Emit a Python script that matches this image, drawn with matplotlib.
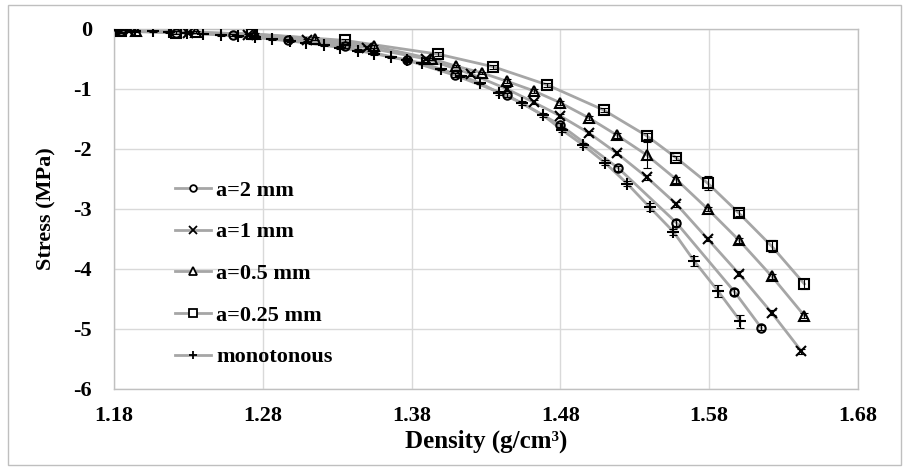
import numpy as np
import matplotlib.pyplot as plt
from matplotlib.patches import Rectangle

plt.rcParams['font.family'] = ['Liberation Serif', 'DejaVu Serif']
plt.rcParams['font.weight'] = 'bold'
plt.rcParams['axes.unicode_minus'] = False

# Data
x_a2 = [1.185, 1.222, 1.260, 1.297, 1.335, 1.377, 1.409, 1.444, 1.480, 1.519, 1.558, 1.597, 1.615]
y_a2 = [-0.03, -0.06, -0.10, -0.18, -0.29, -0.52, -0.77, -1.10, -1.60, -2.32, -3.23, -4.38, -4.98]
e_a2 = [0.02, 0.02, 0.02, 0.02, 0.02, 0.03, 0.03, 0.03, 0.04, 0.04, 0.05, 0.05, 0.04]

x_a1 = [1.190, 1.230, 1.270, 1.310, 1.350, 1.390, 1.420, 1.444, 1.462, 1.480, 1.499, 1.518, 1.538,
        1.558, 1.579, 1.600, 1.622, 1.642]
y_a1 = [-0.03, -0.06, -0.10, -0.18, -0.31, -0.50, -0.75, -1.00, -1.22, -1.45, -1.73, -2.07, -2.47,
        -2.92, -3.50, -4.08, -4.73, -5.37]
e_a1 = [0.02, 0.02, 0.02, 0.02, 0.02, 0.02, 0.03, 0.03, 0.03, 0.03, 0.03, 0.03, 0.04,
        0.04, 0.04, 0.04, 0.04, 0.04]

x_a05 = [1.195, 1.235, 1.275, 1.315, 1.355, 1.394, 1.410, 1.427, 1.444, 1.462, 1.480, 1.499, 1.518,
         1.538, 1.558, 1.579, 1.600, 1.622, 1.644]
y_a05 = [-0.03, -0.05, -0.09, -0.16, -0.29, -0.50, -0.62, -0.73, -0.87, -1.03, -1.23, -1.48, -1.77,
         -2.10, -2.51, -3.00, -3.52, -4.12, -4.78]
e_a05 = [0.02, 0.02, 0.02, 0.02, 0.02, 0.02, 0.02, 0.02, 0.03, 0.03, 0.03, 0.03, 0.04,
         0.21, 0.05, 0.04, 0.04, 0.04, 0.04]

x_a025 = [1.185, 1.222, 1.273, 1.335, 1.398, 1.435, 1.471, 1.509, 1.538, 1.558, 1.579, 1.600, 1.622, 1.644]
y_a025 = [-0.04, -0.06, -0.08, -0.19, -0.42, -0.63, -0.93, -1.35, -1.78, -2.15, -2.57, -3.07, -3.62, -4.25]
e_a025 = [0.02, 0.02, 0.02, 0.02, 0.03, 0.03, 0.03, 0.03, 0.05, 0.03, 0.12, 0.05, 0.10, 0.08]

x_mono = [1.183, 1.194, 1.206, 1.217, 1.229, 1.240, 1.252, 1.263, 1.275, 1.286, 1.298, 1.309,
          1.321, 1.332, 1.344, 1.355, 1.366, 1.377, 1.387, 1.400, 1.413, 1.426, 1.439, 1.454,
          1.468, 1.481, 1.495, 1.510, 1.525, 1.540, 1.556, 1.570, 1.586, 1.601]
y_mono = [-0.02, -0.03, -0.04, -0.05, -0.06, -0.08, -0.10, -0.12, -0.14, -0.17, -0.20, -0.23,
          -0.27, -0.31, -0.36, -0.41, -0.47, -0.52, -0.57, -0.67, -0.78, -0.90, -1.07, -1.23,
          -1.43, -1.68, -1.93, -2.23, -2.58, -2.97, -3.38, -3.87, -4.37, -4.87]
e_mono = [0.01, 0.01, 0.01, 0.01, 0.01, 0.01, 0.01, 0.01, 0.01, 0.01, 0.01, 0.01,
          0.02, 0.02, 0.02, 0.02, 0.02, 0.02, 0.02, 0.02, 0.02, 0.02, 0.03, 0.03,
          0.03, 0.03, 0.03, 0.04, 0.04, 0.07, 0.05, 0.08, 0.10, 0.11]

series = [
    (x_a2, y_a2, e_a2, 'o', 6, 'a=2 mm'),
    (x_a1, y_a1, e_a1, 'x', 7, 'a=1 mm'),
    (x_a05, y_a05, e_a05, '^', 7, 'a=0.5 mm'),
    (x_a025, y_a025, e_a025, 's', 7, 'a=0.25 mm'),
    (x_mono, y_mono, e_mono, '+', 8, 'monotonous'),
]

fig = plt.figure(figsize=(9.09, 4.70), dpi=100)
ax = fig.add_axes([114 / 909, 1 - 389 / 470, 744 / 909, 360 / 470])

line_color = '#a6a6a6'
for xs, ys, es, mk, ms, lab in series:
    ax.plot(xs, ys, '-', color=line_color, lw=2.0, zorder=2)
    ax.errorbar(xs, ys, yerr=es, fmt='none', ecolor='black', elinewidth=0.8,
                capsize=3, capthick=0.8, zorder=3)
    ax.plot(xs, ys, linestyle='none', marker=mk, ms=ms, mec='black', mfc='none',
            mew=1.5, zorder=4)
    # legend proxy
    ax.plot([], [], '-', color=line_color, lw=2.0, marker=mk, ms=ms * 0.8,
            mec='black', mfc='white', mew=1.3, label=lab)

ax.set_xlim(1.18, 1.68)
ax.set_ylim(-6, 0)
ax.set_xticks([1.18, 1.28, 1.38, 1.48, 1.58, 1.68])
ax.set_xticklabels(['1.18', '1.28', '1.38', '1.48', '1.58', '1.68'])
ax.set_yticks([0, -1, -2, -3, -4, -5, -6])
ax.set_yticklabels(['0', '-1', '-2', '-3', '-4', '-5', '-6'])
ax.tick_params(length=0, labelsize=16, pad=12)
ax.tick_params(axis='y', pad=16)
ax.grid(True, color='#d9d9d9', lw=1.0)
ax.set_axisbelow(True)
for sp in ax.spines.values():
    sp.set_color('#c0c0c0')
    sp.set_linewidth(1.0)

ax.set_xlabel('Density (g/cm³)', fontsize=18, fontweight='bold', labelpad=3)
ax.set_ylabel('Stress (MPa)', fontsize=16, fontweight='bold', labelpad=12)

ax.legend(loc='upper left', bbox_to_anchor=(0.082, 0.58), frameon=False,
          labelspacing=0.95, handlelength=1.6, handletextpad=0.25,
          borderpad=0, borderaxespad=0, prop={'weight': 'bold', 'size': 16})

# outer chart border
fig.patches.append(Rectangle((8 / 909, 5 / 470), 893 / 909, 460 / 470, transform=fig.transFigure,
                             fill=False, edgecolor='#bfbfbf', lw=1.0))

fig.savefig('out.png', dpi=100)
